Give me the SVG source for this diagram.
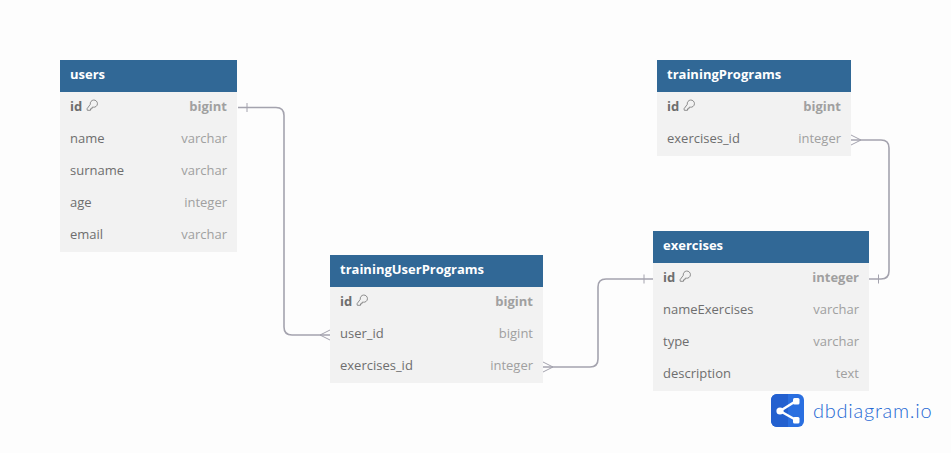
<svg xmlns="http://www.w3.org/2000/svg" width="951" height="453" viewBox="0 0 951 453">
<defs>
<style>
text{font-family:"Open Sans","Noto Sans",sans-serif;font-size:13px}
.h{fill:#316896}
.b{fill:#f2f2f2}
.t{fill:#fff;font-weight:700}
.n{fill:#6e6e6e}
.v{fill:#a0a0a0;text-anchor:end}
.k{font-weight:700}
.c{fill:none;stroke:#a4a3ae;stroke-width:1.6}
.m{fill:none;stroke:#a4a3ae;stroke-width:1}
.key{fill:none;stroke:#808080;stroke-width:.9}
</style>
<path id="keyicon" class="key" d="M4.300 -1.700A3.600 3.600 0 1 1 7.300 1.200L6 1.300V2.800H4.500V4.300H1.300L1 2.800Z"/>
</defs>
<rect width="951" height="453" fill="#fdfdfd"/>
<g id="connectors">
<path class="c" d="M238 107.500H276Q284 107.500 284 115.500V327Q284 335 292 335H330"/>
<path class="m" d="M247 103V112M330 330L320 335L330 340"/>
<path class="c" d="M543 367H590Q598 367 598 359V287Q598 279 606 279H653"/>
<path class="m" d="M543 362L553 367L543 372M644 274.500V283.500"/>
<path class="c" d="M851 140H881Q889 140 889 148V271Q889 279 881 279H869"/>
<path class="m" d="M851 135L861 140L851 145M878.500 274.500V283.500"/>
</g>
<g id="users">
<rect class="h" x="60" y="60" width="177" height="32"/>
<rect class="b" x="60" y="92" width="177" height="160"/>
<text class="t" x="70" y="79">users</text>
<text class="n k" x="70" y="111">id</text><use href="#keyicon" x="86" y="106"/><text class="v k" x="227" y="111">bigint</text>
<text class="n" x="70" y="143">name</text><text class="v" x="227" y="143">varchar</text>
<text class="n" x="70" y="175">surname</text><text class="v" x="227" y="175">varchar</text>
<text class="n" x="70" y="207">age</text><text class="v" x="227" y="207">integer</text>
<text class="n" x="70" y="239">email</text><text class="v" x="227" y="239">varchar</text>
</g>
<g id="trainingPrograms">
<rect class="h" x="657" y="60" width="194" height="32"/>
<rect class="b" x="657" y="92" width="194" height="64"/>
<text class="t" x="667" y="79">trainingPrograms</text>
<text class="n k" x="667" y="111">id</text><use href="#keyicon" x="683" y="106"/><text class="v k" x="841" y="111">bigint</text>
<text class="n" x="667" y="143">exercises_id</text><text class="v" x="841" y="143">integer</text>
</g>
<g id="trainingUserPrograms">
<rect class="h" x="330" y="255" width="213" height="32"/>
<rect class="b" x="330" y="287" width="213" height="96"/>
<text class="t" x="340" y="274">trainingUserPrograms</text>
<text class="n k" x="340" y="306">id</text><use href="#keyicon" x="356" y="301"/><text class="v k" x="533" y="306">bigint</text>
<text class="n" x="340" y="338">user_id</text><text class="v" x="533" y="338">bigint</text>
<text class="n" x="340" y="370">exercises_id</text><text class="v" x="533" y="370">integer</text>
</g>
<g id="exercises">
<rect class="h" x="653" y="231" width="216" height="32"/>
<rect class="b" x="653" y="263" width="216" height="128"/>
<text class="t" x="663" y="250">exercises</text>
<text class="n k" x="663" y="282">id</text><use href="#keyicon" x="679" y="277"/><text class="v k" x="859" y="282">integer</text>
<text class="n" x="663" y="314">nameExercises</text><text class="v" x="859" y="314">varchar</text>
<text class="n" x="663" y="346">type</text><text class="v" x="859" y="346">varchar</text>
<text class="n" x="663" y="378">description</text><text class="v" x="859" y="378">text</text>
</g>
<g id="logo">
<rect x="771" y="394" width="33" height="33" rx="6" fill="#2a6fe0"/>
<path d="M771 400a6 6 0 0 1 6-6h11v33h-11a6 6 0 0 1-6-6z" fill="#2360cf"/>
<path d="M780 411L796 401M780 411L796 420" stroke="#fff" stroke-width="2.500" fill="none"/>
<circle cx="780" cy="411" r="3.600" fill="#fff"/><rect x="793" y="398" width="6.500" height="6.500" rx="1.500" fill="#fff"/><rect x="793" y="417" width="6.500" height="6.500" rx="1.500" fill="#fff"/>
<text x="813" y="418" style="font-size:20px;font-family:'Lato','Noto Sans',sans-serif;font-weight:300;letter-spacing:.75px" fill="#2568d4">dbdiagram.io</text>
</g>
</svg>
